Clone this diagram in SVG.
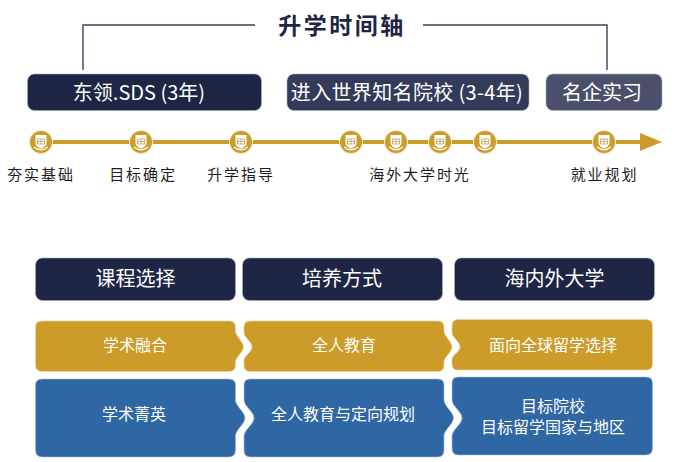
<svg xmlns="http://www.w3.org/2000/svg" width="678" height="462" viewBox="0 0 678 462">
<style>
text{font-family:"Noto Sans CJK SC","Noto Sans",sans-serif;text-anchor:middle}
.title{font-size:23px;font-weight:700;fill:#1e2545;letter-spacing:2.500px}
.bar{font-size:20px;fill:#fff}
.lab{font-size:15px;fill:#1c1c24;letter-spacing:1.900px}
.head{font-size:20px;fill:#fff}
.cell{font-size:16px;fill:#fff}
.gold{fill:#cc9b28;stroke:#e8d5a5;stroke-width:.6}
.blue{fill:#2f66a4;stroke:#a5bfdc;stroke-width:.6}
.navy{fill:#1e2545;stroke:#a8acbb;stroke-width:.6}
.br{fill:none;stroke:#3a4059;stroke-width:1.4}
</style>
<defs>
<g id="em">
<circle r="12" fill="#f1ebdb"/>
<circle r="11" fill="#cc9b28"/>
<path d="M-5.500-7H5.500V1C5.500 4 2.500 5.500 0 6.500C-2.500 5.500-5.500 4-5.500 1Z" fill="#fff"/>
<path d="M-3.500-3H3.500V2H-3.500ZM0-3V2M-3.500-.5H3.500" stroke="#b9973f" stroke-width=".7" fill="none"/>
<path d="M-7 5Q0 10.500 7 5" stroke="#fff" stroke-width="1.300" fill="none"/>
</g>
</defs>
<g id="connectors">
<path class="br" d="M255 25H83V70"/>
<path class="br" d="M423 25H607V70"/>
<path d="M40 142H644" stroke="#cc9b28" stroke-width="4" fill="none"/>
<path d="M640 133L662 142L640 151Z" fill="#cc9b28"/>
</g>
<g id="title"><text class="title" x="342" y="34">升学时间轴</text></g>
<g id="phase-1"><rect class="navy" x="27.500" y="74" width="234" height="36.500" rx="7"/><text class="bar" x="139" y="100">东领.SDS (3年)</text></g>
<g id="phase-2"><rect x="287" y="74" width="242" height="36.500" rx="7" fill="#343a5a" stroke="#a8acbb" stroke-width=".6"/><text class="bar" x="407" y="100" letter-spacing=".35">进入世界知名院校 (3-4年)</text></g>
<g id="phase-3"><rect x="546" y="74" width="116" height="36.500" rx="7" fill="#4b4f6b" stroke="#a8acbb" stroke-width=".6"/><text class="bar" x="602" y="100">名企实习</text></g>
<g id="milestones">
<use href="#em" x="41" y="142"/><use href="#em" x="141" y="142"/><use href="#em" x="241" y="142"/><use href="#em" x="351" y="142"/><use href="#em" x="396" y="142"/><use href="#em" x="440" y="142"/><use href="#em" x="485" y="142"/><use href="#em" x="604" y="142"/>
</g>
<g id="labels">
<text class="lab" x="41" y="180">夯实基础</text>
<text class="lab" x="143" y="180">目标确定</text>
<text class="lab" x="241" y="180">升学指导</text>
<text class="lab" x="420" y="180">海外大学时光</text>
<text class="lab" x="604.500" y="180">就业规划</text>
</g>
<g id="head-1"><rect class="navy" x="35.500" y="258" width="200" height="42.500" rx="7"/><text class="head" x="135.500" y="286">课程选择</text></g>
<g id="head-2"><rect class="navy" x="242.500" y="258" width="200" height="42.500" rx="7"/><text class="head" x="342" y="286">培养方式</text></g>
<g id="head-3"><rect class="navy" x="454.500" y="258" width="200" height="42.500" rx="7"/><text class="head" x="554.500" y="286">海内外大学</text></g>
<g id="gold-1"><path class="gold" d="M42 321H229Q235.500 321 235.500 327V331C235.500 336 243.500 342 243.500 347C243.500 352 235.500 357 235.500 362V365Q235.500 371.500 229 371.500H42Q35.500 371.500 35.500 365V327Q35.500 321 42 321Z"/><text class="cell" x="135" y="351">学术融合</text></g>
<g id="gold-2"><path class="gold" d="M250 321H438Q444 321 444 327V331C444 336 452 342 452 347C452 352 444 357 444 362V365Q444 371.500 438 371.500H250Q244 371.500 244 365V360C244 356 252 352 252 347C252 342 244 337 244 333V327Q244 321 250 321Z"/><text class="cell" x="344" y="351">全人教育</text></g>
<g id="gold-3"><path class="gold" d="M458 319.500H646Q652.500 319.500 652.500 326V364Q652.500 370 646 370H458Q452 370 452 364V359C452 355 460 352 460 347C460 342 452 337 452 333V326Q452 319.500 458 319.500Z"/><text class="cell" x="553" y="351">面向全球留学选择</text></g>
<g id="blue-1"><path class="blue" d="M42 379H229Q235.500 379 235.500 385V400C235.500 406 245 412 245 418C245 424 235.500 430 235.500 436V450Q235.500 457 229 457H42Q35.500 457 35.500 450V385Q35.500 379 42 379Z"/><text class="cell" x="134" y="420">学术菁英</text></g>
<g id="blue-2"><path class="blue" d="M250 379H438Q444 379 444 385V400C444 406 453.500 412 453.500 418C453.500 424 444 430 444 436V450Q444 457 438 457H250Q244 457 244 450V436C244 430 254 424 254 418C254 412 244 406 244 400V385Q244 379 250 379Z"/><text class="cell" x="343" y="420">全人教育与定向规划</text></g>
<g id="blue-3"><path class="blue" d="M458 377H646Q652.500 377 652.500 383V448Q652.500 455 646 455H458Q452 455 452 448V436C452 430 462 424 462 418C462 412 452 406 452 400V383Q452 377 458 377Z"/><text class="cell" x="553" y="412">目标院校<tspan x="553" y="433">目标留学国家与地区</tspan></text></g>
</svg>
